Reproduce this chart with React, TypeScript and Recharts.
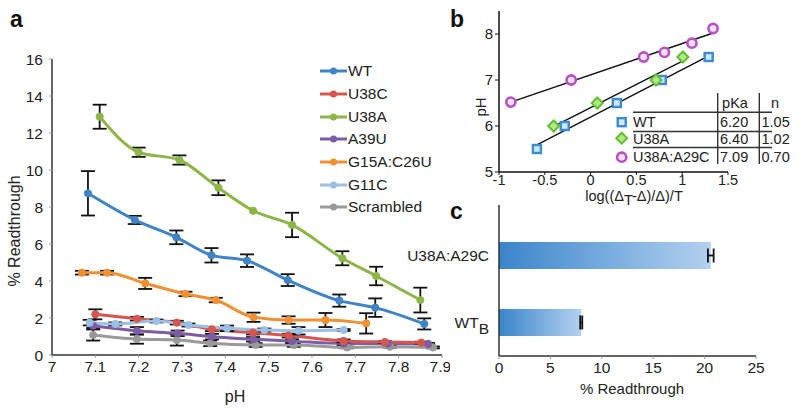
import React from 'react';
import {
  LineChart, Line, XAxis, YAxis, ErrorBar, ComposedChart, Scatter, BarChart, Bar,
} from 'recharts';

const FONT = '"Liberation Sans", Arial, Helvetica, sans-serif';
const TXT = '#222';

// ---------- Panel a : % readthrough vs pH ----------
const phTicks = [7, 7.1, 7.2, 7.3, 7.4, 7.5, 7.6, 7.7, 7.8, 7.9];
const readTicks = [0, 2, 4, 6, 8, 10, 12, 14, 16];

const wtPH = [7.083, 7.191, 7.287, 7.368, 7.45, 7.544, 7.663, 7.746, 7.859];
const wtVal = [8.74, 7.3, 6.36, 5.39, 5.1, 4.05, 2.94, 2.56, 1.68];
const wtErr = [1.2, 0.22, 0.37, 0.39, 0.34, 0.32, 0.33, 0.5, 0.3];

const u38cPH = [7.1, 7.196, 7.288, 7.369, 7.464, 7.546, 7.673, 7.768, 7.852];
const u38cVal = [2.2, 1.96, 1.75, 1.39, 1.21, 1.05, 0.76, 0.7, 0.67];
const u38cErr = [0.27, 0.1, 0.1, 0.1, 0.1, 0.1, 0.08, 0.05, 0.05];

const u38aPH = [7.11, 7.2, 7.294, 7.384, 7.464, 7.554, 7.67, 7.748, 7.85];
const u38aVal = [12.88, 10.96, 10.54, 9.04, 7.8, 7.03, 5.23, 4.27, 2.97];
const u38aErr = [0.65, 0.25, 0.25, 0.4, 0, 0.66, 0.38, 0.5, 0.67];

const a39uPH = [7.095, 7.196, 7.29, 7.369, 7.464, 7.554, 7.673, 7.775, 7.868];
const a39uVal = [1.58, 1.31, 1.17, 0.99, 0.85, 0.75, 0.62, 0.62, 0.6];
const a39uErr = [0.12, 0.2, 0.15, 0.15, 0.12, 0.1, 0.08, 0.05, 0.05];

const g15aPH = [7.069, 7.127, 7.215, 7.308, 7.378, 7.465, 7.546, 7.631, 7.725];
const g15aVal = [4.45, 4.45, 3.87, 3.3, 2.97, 2.04, 1.89, 1.89, 1.71];
const g15aErr = [0.1, 0.1, 0.3, 0.12, 0.12, 0.25, 0.2, 0.38, 0.55];

const g11cPH = [7.087, 7.146, 7.241, 7.315, 7.404, 7.49, 7.569, 7.673];
const g11cVal = [1.75, 1.68, 1.84, 1.62, 1.44, 1.35, 1.31, 1.35];
const g11cErr = [0.15, 0.08, 0.08, 0.08, 0.15, 0.08, 0.2, 0.05];

const scrPH = [7.095, 7.196, 7.288, 7.365, 7.47, 7.558, 7.681, 7.78, 7.879];
const scrVal = [1.08, 0.86, 0.81, 0.63, 0.54, 0.54, 0.41, 0.45, 0.41];
const scrErr = [0.3, 0.25, 0.3, 0.15, 0.1, 0.1, 0.05, 0.05, 0.05];

const build = (ph: number[], val: number[], err: number[]) =>
  ph.map((x, i) => ({ x, y: val[i], e: err[i] }));

const seriesA = [
  { name: 'WT', color: '#3F84C6', data: build(wtPH, wtVal, wtErr) },
  { name: 'U38C', color: '#D6564E', data: build(u38cPH, u38cVal, u38cErr) },
  { name: 'U38A', color: '#8DB646', data: build(u38aPH, u38aVal, u38aErr) },
  { name: 'A39U', color: '#7D5CA6', data: build(a39uPH, a39uVal, a39uErr) },
  { name: 'G15A:C26U', color: '#F18F33', data: build(g15aPH, g15aVal, g15aErr) },
  { name: 'G11C', color: '#9CBFE5', data: build(g11cPH, g11cVal, g11cErr) },
  { name: 'Scrambled', color: '#9A9A9A', data: build(scrPH, scrVal, scrErr) },
];
const drawOrder = ['Scrambled', 'A39U', 'U38C', 'G11C', 'G15A:C26U', 'WT', 'U38A'];

// ---------- Panel b : Hill plot ----------
const bXTicks = [-1, -0.5, 0, 0.5, 1, 1.5];
const bYTicks = [5, 6, 7, 8];
const hillWTx = [-0.586, -0.282, 0.286, 0.777, 1.289];
const hillWTy = [5.5, 6.0, 6.5, 7.0, 7.5];
const hillU38Ax = [-0.403, 0.073, 0.714, 1.007];
const hillU38Ay = [6.0, 6.5, 7.0, 7.5];
const hillDblx = [-0.871, -0.212, 0.579, 0.806, 1.106, 1.337];
const hillDbly = [6.52, 7.0, 7.5, 7.6, 7.8, 8.12];
const tableNames = ['WT', 'U38A', 'U38A:A29C'];
const tablePKa = ['6.20', '6.40', '7.09'];
const tableN = ['1.05', '1.02', '0.70'];

const pts = (xs: number[], ys: number[]) => xs.map((x, i) => ({ x, y: ys[i] }));
const fitLine = (xs: number[], ys: number[]) => {
  const n = xs.length;
  const mx = xs.reduce((a, b) => a + b, 0) / n;
  const my = ys.reduce((a, b) => a + b, 0) / n;
  let sxy = 0, sxx = 0;
  xs.forEach((x, i) => { sxy += (x - mx) * (ys[i] - my); sxx += (x - mx) * (x - mx); });
  const b = sxy / sxx;
  const lo = Math.min(...xs), hi = Math.max(...xs);
  return [{ x: lo, y: my + b * (lo - mx) }, { x: hi, y: my + b * (hi - mx) }];
};

const SquareMark = (p: any) => (
  <rect x={p.cx - 4} y={p.cy - 4} width={8} height={8} fill="#d4e6f6" stroke="#3A8DD2" strokeWidth={2.4} />
);
const DiamondMark = (p: any) => (
  <polygon
    points={`${p.cx},${p.cy - 5.5} ${p.cx + 5.5},${p.cy} ${p.cx},${p.cy + 5.5} ${p.cx - 5.5},${p.cy}`}
    fill="#b5e58e" stroke="#5FC12F" strokeWidth={2}
  />
);
const CircleMark = (p: any) => (
  <circle cx={p.cx} cy={p.cy} r={4.6} fill="#f6e2f7" stroke="#B950C4" strokeWidth={2.6} />
);
const tableMarks = [SquareMark, DiamondMark, CircleMark];

// ---------- Panel c : bars ----------
const cCats = ['U38A:A29C', 'WT_B'];
const cVals = [20.6, 8.0];
const cErrs = [0.28, 0.1];
const cTicks = [0, 5, 10, 15, 20, 25];
const cData = cCats.map((name, i) => ({ name, value: cVals[i], err: cErrs[i] }));

const CatTick = (p: any) => {
  const v: string = p.payload.value;
  const parts = v.split('_');
  return (
    <text x={p.x} y={p.y} dy={5} textAnchor="end" fill={TXT} fontSize={15.5} fontFamily={FONT}>
      {parts[0]}
      {parts[1] ? <tspan dy={6} fontSize={15.5}>{parts[1]}</tspan> : null}
    </text>
  );
};

const tickStyle = { fontSize: 15.5, fill: TXT, fontFamily: FONT };

export default function App() {
  const byName: Record<string, any> = {};
  seriesA.forEach((s) => { byName[s.name] = s; });
  return (
    <div style={{ position: 'absolute', left: 0, top: 0, width: 800, height: 408, background: '#fff', overflow: 'hidden', fontFamily: FONT }}>
      {/* Panel a */}
      <div style={{ position: 'absolute', left: 0, top: 0 }}>
        <LineChart width={450} height={408} margin={{ top: 59, right: 8, bottom: 23, left: 12 }}>
          <XAxis
            type="number" dataKey="x" domain={[7, 7.9]} ticks={phTicks} allowDataOverflow
            tickFormatter={(v: number) => String(v)} tick={tickStyle}
            axisLine={{ stroke: '#333', strokeWidth: 1.5 }} tickLine={{ stroke: '#999' }} tickSize={3} tickMargin={3} height={30}
          />
          <YAxis
            type="number" domain={[0, 16]} ticks={readTicks} tick={tickStyle} width={40}
            axisLine={{ stroke: '#333', strokeWidth: 1.5 }} tickLine={{ stroke: '#999' }} tickSize={3} tickMargin={6}
          />
          {drawOrder.map((n) => {
            const s = byName[n];
            return (
              <Line
                key={n} data={s.data} dataKey="y" name={n} type="monotone" stroke={s.color} strokeWidth={3}
                dot={{ r: 3.6, fill: s.color, stroke: s.color, strokeWidth: 1 }} isAnimationActive={false}
              >
                <ErrorBar dataKey="e" direction="y" width={7} stroke="#111" strokeWidth={1.8} />
              </Line>
            );
          })}
        </LineChart>
      </div>

      {/* Panel a legend */}
      <div style={{ position: 'absolute', left: 319, top: 60 }}>
        {seriesA.map((s) => (
          <div key={s.name} style={{ display: 'flex', alignItems: 'center', height: 22.7 }}>
            <svg width={29} height={10} style={{ display: 'block' }}>
              <line x1={1} y1={5} x2={28} y2={5} stroke={s.color} strokeWidth={3} />
              <circle cx={14.5} cy={5} r={3.5} fill={s.color} />
            </svg>
            <span style={{ fontSize: 15.5, color: TXT, lineHeight: '18px' }}>{s.name}</span>
          </div>
        ))}
      </div>

      {/* Panel b */}
      <div style={{ position: 'absolute', left: 459, top: 0 }}>
        <ComposedChart width={341} height={210} margin={{ top: 11, right: 72, bottom: 18, left: 20 }}>
          <XAxis
            type="number" dataKey="x" domain={[-1, 1.5]} ticks={bXTicks} allowDataOverflow
            tickFormatter={(v: number) => String(v)} tick={{ ...tickStyle, fontSize: 14.5 }} height={20}
            axisLine={{ stroke: '#111', strokeWidth: 1.5 }} tickLine={{ stroke: '#111' }} tickSize={3} tickMargin={0}
          />
          <YAxis
            type="number" dataKey="y" domain={[5, 8.5]} ticks={bYTicks} allowDataOverflow width={20}
            tick={{ ...tickStyle, fontSize: 15 }}
            axisLine={{ stroke: '#111', strokeWidth: 1.5 }} tickLine={{ stroke: '#111' }} tickSize={4} tickMargin={2}
          />
          <Line data={fitLine(hillWTx, hillWTy)} dataKey="y" stroke="#111" strokeWidth={1.4} dot={false} isAnimationActive={false} />
          <Line data={fitLine(hillU38Ax, hillU38Ay)} dataKey="y" stroke="#111" strokeWidth={1.4} dot={false} isAnimationActive={false} />
          <Line data={fitLine(hillDblx, hillDbly)} dataKey="y" stroke="#111" strokeWidth={1.4} dot={false} isAnimationActive={false} />
          <Scatter data={pts(hillWTx, hillWTy)} dataKey="y" shape={SquareMark} isAnimationActive={false} />
          <Scatter data={pts(hillU38Ax, hillU38Ay)} dataKey="y" shape={DiamondMark} isAnimationActive={false} />
          <Scatter data={pts(hillDblx, hillDbly)} dataKey="y" shape={CircleMark} isAnimationActive={false} />
        </ComposedChart>
      </div>

      {/* Panel c */}
      <div style={{ position: 'absolute', left: 390, top: 195 }}>
        <BarChart width={410} height={213} data={cData} layout="vertical" margin={{ top: 10, right: 44, bottom: 22, left: 9 }}>
          <defs>
            <linearGradient id="barGrad" x1="0" y1="0" x2="1" y2="0">
              <stop offset="0%" stopColor="#3A85CB" />
              <stop offset="100%" stopColor="#B4D1F0" />
            </linearGradient>
          </defs>
          <XAxis
            type="number" domain={[0, 25]} ticks={cTicks} tick={tickStyle} height={30}
            axisLine={{ stroke: '#333', strokeWidth: 1.5 }} tickLine={{ stroke: '#999' }} tickSize={3} tickMargin={3}
          />
          <YAxis
            type="category" dataKey="name" width={100} tick={<CatTick />} padding={{ top: 17, bottom: 0 }}
            axisLine={{ stroke: '#333', strokeWidth: 1.5 }} tickLine={false} tickMargin={4}
          />
          <Bar dataKey="value" fill="url(#barGrad)" barSize={27} isAnimationActive={false}>
            <ErrorBar dataKey="err" direction="x" width={7} stroke="#111" strokeWidth={1.8} />
          </Bar>
        </BarChart>
      </div>

      {/* Titles and inline table */}
      <svg width={800} height={408} style={{ position: 'absolute', left: 0, top: 0, pointerEvents: 'none' }} fontFamily={FONT}>
        <text x={10} y={27} fontSize={23} fontWeight="bold" fill="#111">a</text>
        <text x={450} y={27} fontSize={23} fontWeight="bold" fill="#111">b</text>
        <text x={450} y={219} fontSize={23} fontWeight="bold" fill="#111">c</text>

        <text transform="translate(20,231) rotate(-90)" textAnchor="middle" fontSize={16} fill={TXT}>% Readthrough</text>
        <text x={235} y={402} textAnchor="middle" fontSize={16} fill={TXT}>pH</text>

        <text transform="translate(486,107) rotate(-90)" textAnchor="middle" fontSize={15} fill={TXT}>pH</text>
        <text x={634} y={201} textAnchor="middle" fontSize={14.5} fill={TXT}>
          log((Δ<tspan dy={4}>T</tspan><tspan dy={-4}>-Δ)/Δ)/T</tspan>
        </text>

        <text x={632} y={394} textAnchor="middle" fontSize={15} fill={TXT}>% Readthrough</text>

        {/* inline table in panel b */}
        <line x1={633} y1={112.3} x2={772} y2={112.3} stroke="#333" strokeWidth={1.4} />
        <line x1={633} y1={131.5} x2={772} y2={131.5} stroke="#333" strokeWidth={1.4} />
        <line x1={633} y1={147.5} x2={772} y2={147.5} stroke="#333" strokeWidth={1.4} />
        <line x1={717.7} y1={93} x2={717.7} y2={164} stroke="#333" strokeWidth={1.4} />
        <line x1={759.3} y1={93} x2={759.3} y2={164} stroke="#333" strokeWidth={1.4} />
        <text x={735} y={107.5} textAnchor="middle" fontSize={14.5} fill={TXT}>pKa</text>
        <text x={775} y={107.5} textAnchor="middle" fontSize={14.5} fill={TXT}>n</text>
        {tableNames.map((nm, i) => {
          const base = [127, 143.5, 161.5][i];
          const my = [122.2, 138.2, 157.2][i];
          const Mk = tableMarks[i];
          return (
            <g key={nm}>
              <Mk cx={621.7} cy={my} />
              <text x={633} y={base} fontSize={14.5} fill={TXT}>{nm}</text>
              <text x={720} y={base} fontSize={14.5} fill={TXT}>{tablePKa[i]}</text>
              <text x={761.5} y={base} fontSize={14.5} fill={TXT}>{tableN[i]}</text>
            </g>
          );
        })}
      </svg>
    </div>
  );
}
